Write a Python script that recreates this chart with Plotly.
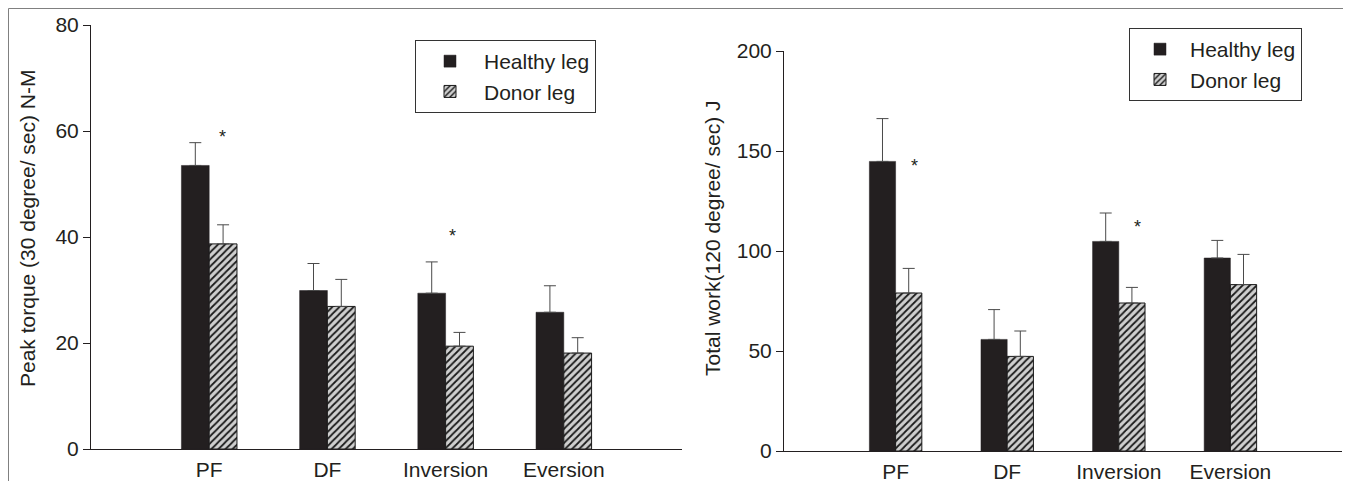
import plotly.graph_objects as go

categories = ["PF", "DF", "Inversion", "Eversion"]

# Left panel: peak torque (30 degree/sec), N-M
torque_healthy = [53.5, 29.9, 29.4, 25.8]
torque_healthy_err = [4.3, 5.1, 5.9, 5.0]
torque_donor = [38.7, 26.9, 19.4, 18.1]
torque_donor_err = [3.6, 5.1, 2.6, 2.9]
torque_sig_x = [0.115, 2.056]
torque_sig_y = [58.9, 40.1]

# Right panel: total work (120 degree/sec), J
work_healthy = [144.8, 55.8, 104.8, 96.5]
work_healthy_err = [21.4, 14.9, 14.2, 8.8]
work_donor = [79.0, 47.3, 74.0, 83.2]
work_donor_err = [12.3, 12.7, 7.8, 15.1]
work_sig_x = [0.168, 2.17]
work_sig_y = [142.7, 112.2]

W, H = 1351, 481
OFF = 8  # page margin around the figure
FONT = "Liberation Sans, Arial, Helvetica, sans-serif"
FS = 21
DARK = "#231f20"
HATCH_BG = "#cfcfcf"
ERR = "#4a4a4a"


def px_x(x):
    return (x - OFF) / W


def px_y(y):
    return (H - (y - OFF)) / H


fig = go.Figure()


def add_pair(healthy, h_err, donor, d_err, xa, ya, legend):
    fig.add_trace(go.Bar(
        x=categories, y=healthy, name="Healthy leg",
        marker=dict(color=DARK, line=dict(color=DARK, width=0.5)),
        error_y=dict(type="data", symmetric=False, array=h_err,
                     arrayminus=[0] * len(h_err), color=ERR, thickness=1, width=6),
        xaxis=xa, yaxis=ya, legend=legend,
    ))
    fig.add_trace(go.Bar(
        x=categories, y=donor, name="Donor leg",
        marker=dict(color=HATCH_BG, line=dict(color="#1a1a1a", width=1),
                    pattern=dict(shape="/", fillmode="replace", fgcolor="#1a1a1a",
                                 bgcolor=HATCH_BG, size=5, solidity=0.35)),
        error_y=dict(type="data", symmetric=False, array=d_err,
                     arrayminus=[0] * len(d_err), color=ERR, thickness=1, width=6),
        xaxis=xa, yaxis=ya, legend=legend,
    ))


add_pair(torque_healthy, torque_healthy_err, torque_donor, torque_donor_err, "x", "y", "legend")
add_pair(work_healthy, work_healthy_err, work_donor, work_donor_err, "x2", "y2", "legend2")

axis_common = dict(showline=True, linecolor=DARK, linewidth=1, showgrid=False,
                   zeroline=False, automargin=False,
                   tickfont=dict(family=FONT, size=FS, color=DARK))

fig.update_layout(
    width=W, height=H, autosize=False,
    margin=dict(l=0, r=0, t=0, b=0, pad=0, autoexpand=False),
    paper_bgcolor="white", plot_bgcolor="white",
    barmode="group", bargap=0.53, bargroupgap=0,
    font=dict(family=FONT, size=FS, color=DARK),
    xaxis=dict(domain=[px_x(91), px_x(682)], anchor="y", range=[-1, 4],
               ticks="outside", ticklen=2, tickcolor="rgba(0,0,0,0)", **axis_common),
    yaxis=dict(domain=[px_y(449), px_y(25)], anchor="x", range=[0, 80],
               tickvals=[0, 20, 40, 60, 80], ticks="outside", ticklen=7,
               tickcolor=DARK, **axis_common),
    xaxis2=dict(domain=[px_x(784), px_x(1342)], anchor="y2", range=[-1, 4],
                ticks="outside", ticklen=2, tickcolor="rgba(0,0,0,0)", **axis_common),
    yaxis2=dict(domain=[px_y(451), px_y(51)], anchor="x2", range=[0, 200],
                tickvals=[0, 50, 100, 150, 200], ticks="outside", ticklen=7,
                tickcolor=DARK, **axis_common),
    legend=dict(x=px_x(415), y=px_y(40), xanchor="left", yanchor="top",
                bordercolor="#333333", borderwidth=1, bgcolor="white", itemwidth=58,
                font=dict(family=FONT, size=FS, color=DARK), tracegroupgap=0),
    legend2=dict(x=px_x(1129), y=px_y(28), xanchor="left", yanchor="top",
                 bordercolor="#333333", borderwidth=1, bgcolor="white", itemwidth=50,
                 font=dict(family=FONT, size=FS, color=DARK), tracegroupgap=0),
    showlegend=True,
)

annotations = [
    dict(text="Peak torque (30 degree/ sec) N-M", textangle=-90,
         x=px_x(28), y=px_y(229), xref="paper", yref="paper",
         xanchor="center", yanchor="middle", showarrow=False,
         font=dict(family=FONT, size=FS, color=DARK)),
    dict(text="Total work(120 degree/ sec) J", textangle=-90,
         x=px_x(712), y=px_y(238), xref="paper", yref="paper",
         xanchor="center", yanchor="middle", showarrow=False,
         font=dict(family=FONT, size=FS, color=DARK)),
]
for sx, sy in zip(torque_sig_x, torque_sig_y):
    annotations.append(dict(text="*", x=sx, y=sy, xref="x", yref="y", showarrow=False,
                            xanchor="center", yanchor="middle",
                            font=dict(family=FONT, size=18, color=DARK)))
for sx, sy in zip(work_sig_x, work_sig_y):
    annotations.append(dict(text="*", x=sx, y=sy, xref="x2", yref="y2", showarrow=False,
                            xanchor="center", yanchor="middle",
                            font=dict(family=FONT, size=18, color=DARK)))
fig.update_layout(annotations=annotations)

# outer frame (top, left, right edges)
left_edge = 0.5 / W
top_edge = (H - 0.5) / H
fig.add_shape(type="path", xref="paper", yref="paper",
              path=f"M {left_edge} 0 L {left_edge} {top_edge} L {px_x(1348)} {top_edge} L {px_x(1348)} 0",
              line=dict(color="#808080", width=1))

fig.write_html("out.html")
